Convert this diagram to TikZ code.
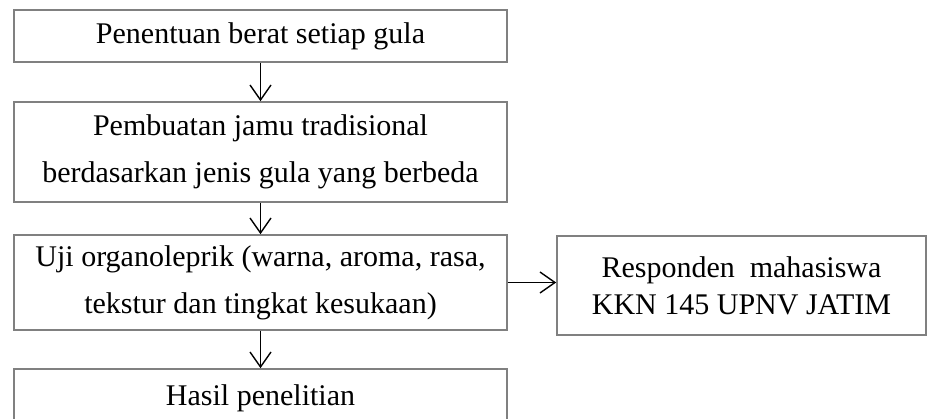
\documentclass[tikz,border=0pt]{standalone}
\usepackage{fontspec}
\setmainfont{Liberation Serif}
\usetikzlibrary{arrows.meta}
\definecolor{boxgray}{RGB}{128,128,128}
\tikzset{
  box/.style={draw=boxgray, line width=1.6pt, inner sep=0pt, align=center, font=\fontsize{30}{47}\selectfont},
  conn/.style={draw=black, line width=1.4pt, -{Straight Barb[length=15pt,width=21pt,line width=1.4pt]}}
}
\begin{document}
\begin{tikzpicture}[x=1pt,y=-1pt]
\useasboundingbox (0,0) rectangle (928,419);
\node[box, minimum width=493pt, minimum height=52pt] (b1) at (260.5,36) {Penentuan berat setiap gula};
\node[box, minimum width=493pt, minimum height=100pt] (b2) at (260.5,152) {Pembuatan jamu tradisional\\berdasarkan jenis gula yang berbeda};
\node[box, minimum width=493pt, minimum height=95pt] (b3) at (260.5,282.5) {Uji organoleprik (warna, aroma, rasa,\\tekstur dan tingkat kesukaan)};
\node[box, minimum width=369pt, minimum height=99pt, font=\fontsize{30}{37}\selectfont] (b4) at (741.5,285.5) {Responden\ \ mahasiswa\\KKN 145 UPNV JATIM};
\node[box, minimum width=493pt, minimum height=58pt] (b5) at (260.5,398) {Hasil penelitian};
\draw[conn] (b1.south) -- (b2.north);
\draw[conn] (b2.south) -- (b3.north);
\draw[conn] (b3.south) -- (b5.north);
\draw[conn] (b3.east) -- (b3.east -| b4.west);
\end{tikzpicture}
\end{document}
